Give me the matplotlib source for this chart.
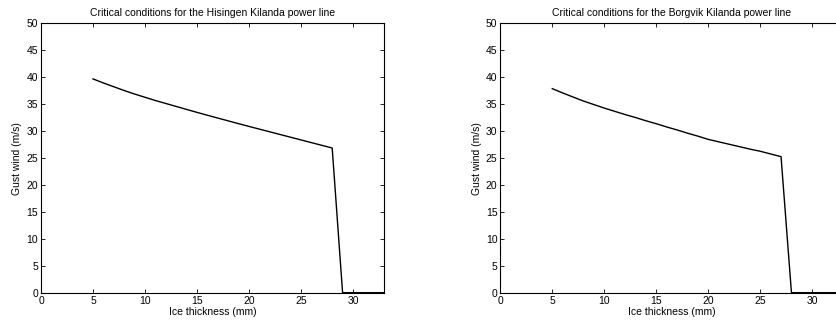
import matplotlib
matplotlib.use("Agg")
import matplotlib.pyplot as plt

plt.rcParams['font.family'] = ['Liberation Sans', 'DejaVu Sans']

x_hisingen = [5, 6, 7, 8, 9, 10, 11, 12, 13, 14, 15, 16, 17, 18, 19, 20, 21, 22, 23, 24, 25, 26, 27, 28, 29, 30, 31, 32, 33]
y_hisingen = [39.7, 38.95, 38.25, 37.55, 36.9, 36.3, 35.7, 35.15, 34.6, 34.05, 33.5, 32.97, 32.45, 31.93, 31.41,
              30.9, 30.4, 29.9, 29.4, 28.9, 28.4, 27.9, 27.4, 26.9, 0.1, 0.1, 0.1, 0.1, 0.1]

x_borgvik = [5, 6, 7, 8, 9, 10, 11, 12, 13, 14, 15, 16, 17, 18, 19, 20, 21, 22, 23, 24, 25, 26, 27, 28, 29, 30, 31, 32, 33]
y_borgvik = [37.9, 37.1, 36.35, 35.6, 34.95, 34.3, 33.7, 33.1, 32.55, 31.95, 31.4, 30.8, 30.25, 29.65, 29.1,
             28.5, 28.05, 27.6, 27.15, 26.7, 26.3, 25.8, 25.3, 0.1, 0.1, 0.1, 0.1, 0.1, 0.1]

titles = ["Critical conditions for the Hisingen Kilanda power line",
          "Critical conditions for the Borgvik Kilanda power line"]
xlabel = "Ice thickness (mm)"
ylabel = "Gust wind (m/s)"
xticks = [0, 5, 10, 15, 20, 25, 30]
yticks = [0, 5, 10, 15, 20, 25, 30, 35, 40, 45, 50]

fig = plt.figure(figsize=(8.37, 3.24), dpi=100)
ax1 = fig.add_axes([0.049, 0.095, 0.410, 0.833])
ax2 = fig.add_axes([0.5977, 0.095, 0.410, 0.833])

fs = 7.5
for ax, x, y, t in [(ax1, x_hisingen, y_hisingen, titles[0]), (ax2, x_borgvik, y_borgvik, titles[1])]:
    ax.plot(x, y, color='black', linewidth=1.0)
    ax.set_xlim(0, 33)
    ax.set_ylim(0, 50)
    ax.set_xticks(xticks)
    ax.set_yticks(yticks)
    ax.tick_params(direction='in', top=True, right=True, labelsize=fs, length=3, width=0.6, pad=2)
    for s in ax.spines.values():
        s.set_linewidth(0.8)
    ax.set_title(t, fontsize=fs, pad=5)
    ax.set_xlabel(xlabel, fontsize=fs, labelpad=0.5)
    ax.set_ylabel(ylabel, fontsize=fs, labelpad=3)

fig.savefig("out.png", dpi=100)
